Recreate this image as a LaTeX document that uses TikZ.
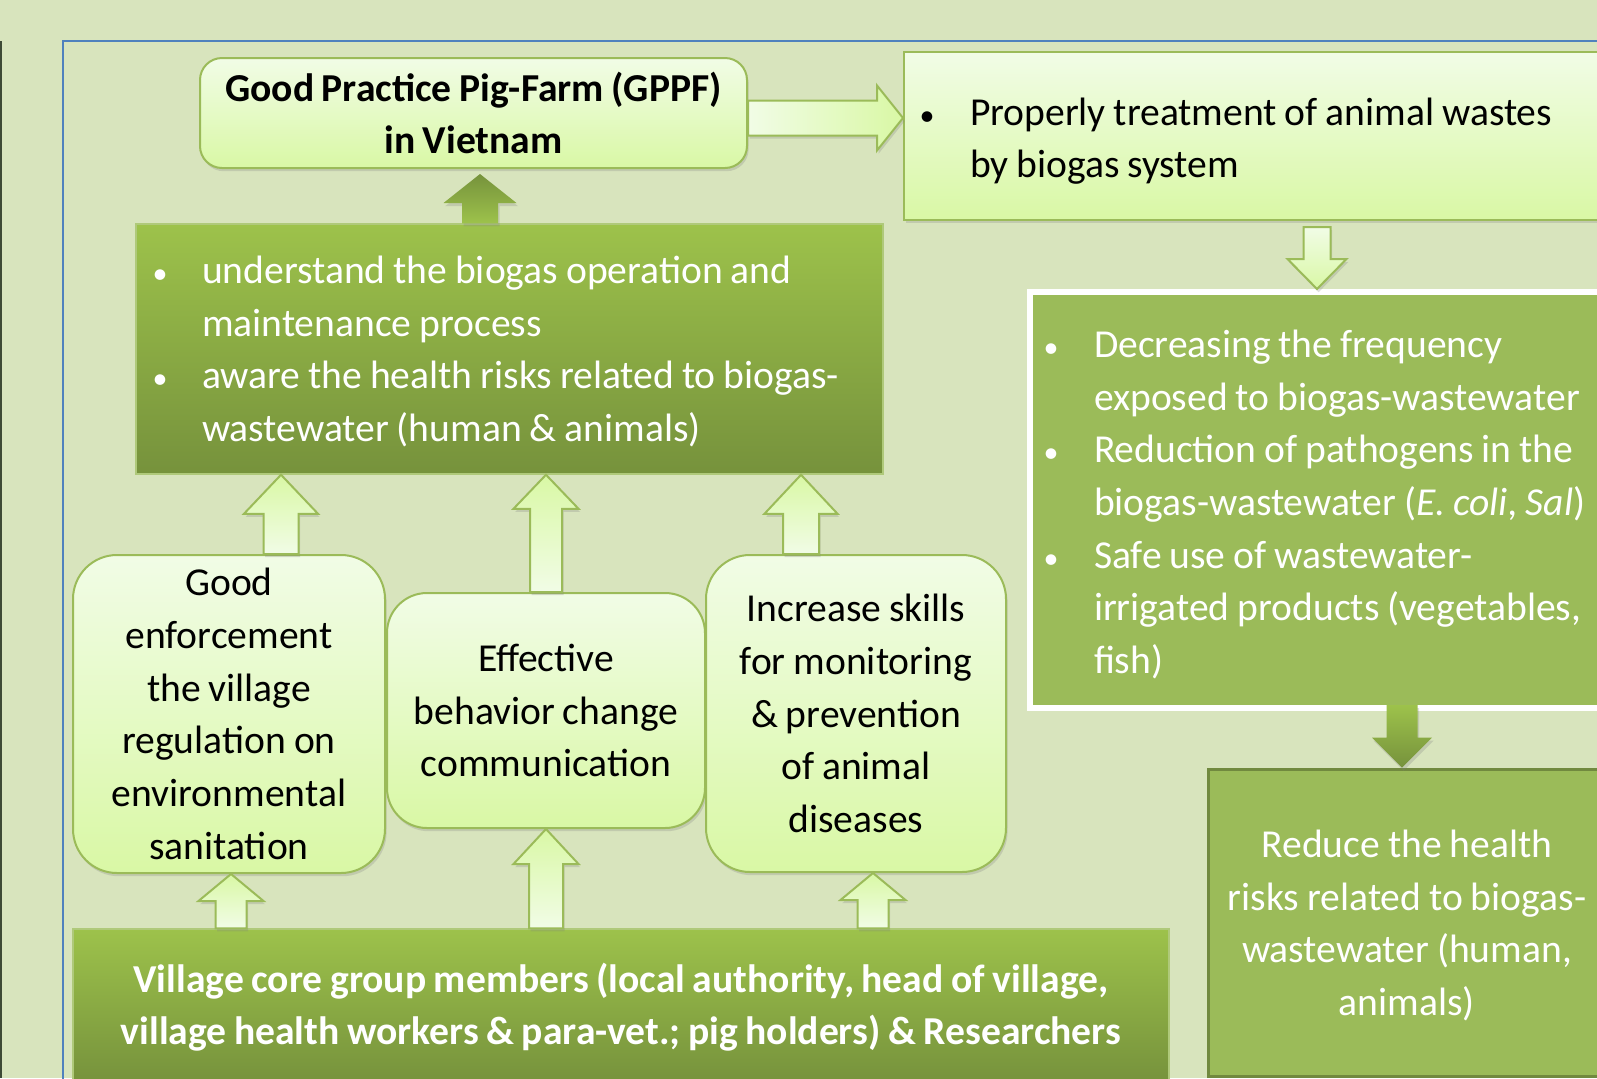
\documentclass[tikz,border=0pt]{standalone}
\usepackage{fontspec}
\setmainfont{Carlito}
\usetikzlibrary{calc,shadows}
\definecolor{bgc}{HTML}{D8E4BD}
\definecolor{framec}{HTML}{4F81BD}
\definecolor{limeb}{HTML}{9BBB59}
\definecolor{ltop}{HTML}{F1FCE6}
\definecolor{lbot}{HTML}{D9F8A5}
\definecolor{dktop}{HTML}{9DC24B}
\definecolor{dkbot}{HTML}{76923C}
\definecolor{olive}{HTML}{71893F}
\definecolor{edgec}{HTML}{3E4A36}
\newcommand\tightspace{\spaceskip=0.2em\xspaceskip=0.2em\relax}
\newcommand\bodyfont{\fontsize{19.8pt}{26.35pt}\selectfont\tightspace}
\newcommand\boldbody{\fontsize{19.8pt}{26.35pt}\selectfont\bfseries\spaceskip=0.19em\xspaceskip=0.19em\relax}
\newcommand\blist[2]{\tightspace\begin{tabular}{@{}p{#1}@{}l@{}}#2\end{tabular}}
\newcommand\bul{\makebox[0pt][c]{\fontsize{15pt}{15pt}\selectfont\textbullet}}
\newcommand\nudgedown[2]{\raisebox{-#1}[\height][\depth]{#2}}
% block arrows: style, tail, tip, shaft half width, head half width, head length
\newcommand\blkup[6]{\path[#1] let \p1=(#2), \p2=(#3) in
  (\x1-#4,\y1) -- (\x1-#4,\y2-#6) -- (\x1-#5,\y2-#6) -- (\x1,\y2) --
  (\x1+#5,\y2-#6) -- (\x1+#4,\y2-#6) -- (\x1+#4,\y1) -- cycle;}
\newcommand\blkdown[6]{\path[#1] let \p1=(#2), \p2=(#3) in
  (\x1-#4,\y1) -- (\x1-#4,\y2+#6) -- (\x1-#5,\y2+#6) -- (\x1,\y2) --
  (\x1+#5,\y2+#6) -- (\x1+#4,\y2+#6) -- (\x1+#4,\y1) -- cycle;}
\newcommand\blkright[6]{\path[#1] let \p1=(#2), \p2=(#3) in
  (\x1,\y1-#4) -- (\x2-#6,\y1-#4) -- (\x2-#6,\y1-#5) -- (\x2,\y1) --
  (\x2-#6,\y1+#5) -- (\x2-#6,\y1+#4) -- (\x1,\y1+#4) -- cycle;}
\begin{document}
\begin{tikzpicture}[x=0.5pt,y=-0.5pt,
  shadowed/.style={drop shadow={shadow xshift=0.8pt,shadow yshift=-1.6pt,opacity=0.25}},
  lightbox/.style={shadowed, draw=limeb, line width=1pt, top color=ltop, bottom color=lbot,
    inner sep=0pt, font=\bodyfont, text=black},
  darkbox/.style={draw=limeb!80!white, line width=0.75pt, top color=dktop, bottom color=dkbot,
    inner sep=0pt, font=\bodyfont, text=white},
  lightup/.style={shadowed, draw=limeb, line width=1pt, top color=lbot, bottom color=ltop},
  lightdown/.style={shadowed, draw=limeb, line width=1pt, top color=ltop, bottom color=lbot},
  lightright/.style={shadowed, draw=limeb, line width=1pt, left color=ltop, right color=lbot},
  darkup/.style={shadowed, top color=dkbot, bottom color=dktop},
  darkdown/.style={shadowed, top color=dktop, bottom color=dkbot}]
\useasboundingbox (0,0) rectangle (1597,1078);
\clip (0,0) rectangle (1597,1078);
\fill[bgc] (0,0) rectangle (1597,1078);
\fill[edgec] (0,41) rectangle (2,1078);
\draw[framec, line width=1pt] (1620,41) -- (63,41) -- (63,1100);

% boxes
\node[lightbox, rounded corners=11pt, minimum width=273.5pt, minimum height=55pt, align=center,
  font=\boldbody] (gppf) at (473.5,113) {Good Practice Pig-Farm (GPPF)\\in Vietnam};
\node[lightbox, minimum width=368pt, minimum height=84pt, text width=345pt, inner xsep=11.5pt,
  align=left] (proper) at (1272,136)
  {\nudgedown{2.5pt}{\blist{21.5pt}{\bul & Properly treatment of animal wastes\\ & by biogas system}}};
\node[darkbox, minimum width=373.5pt, minimum height=125pt, text width=349.5pt, inner xsep=12pt,
  align=left] (under) at (509.5,349)
  {\nudgedown{1.5pt}{\blist{21pt}{\bul & understand the biogas operation and\\ & maintenance process\\
   \bul & aware the health risks related to biogas-\\ & wastewater (human \& animals)}}};
\node[lightbox, rounded corners=22pt, minimum width=156pt, minimum height=159pt, align=center]
  (good) at (229,714) {Good\\enforcement\\the village\\regulation on\\environmental\\sanitation};
\node[lightbox, rounded corners=20pt, minimum width=159pt, minimum height=117.5pt, align=center]
  (effect) at (546,710.5) {Effective\\behavior change\\communication};
\node[lightbox, rounded corners=22pt, minimum width=150pt, minimum height=158.5pt, align=center]
  (incr) at (856,713.5) {Increase skills\\for monitoring\\\& prevention\\of animal\\diseases};
\node[darkbox, minimum width=548pt, minimum height=77pt, font=\boldbody]
  (village) at (621,1006) {\nudgedown{1pt}{\begin{tabular}{@{}c@{}}Village core group members (local authority, head of village,\\village health workers \& para-vet.; pig holders) \& Researchers\end{tabular}}};
\node[shadowed, fill=limeb, draw=white, line width=3pt, minimum width=305pt, minimum height=208pt,
  text width=284pt, inner xsep=10.5pt, inner ysep=0pt, align=left, font=\bodyfont, text=white]
  (decr) at (1335,500)
  {\nudgedown{2.5pt}{\blist{21.5pt}{\bul & Decreasing the frequency\\ & exposed to biogas-wastewater\\
   \bul & Reduction of pathogens in the\\ & biogas-wastewater (\textit{E. coli, Sal})\\
   \bul & Safe use of wastewater-\\ & irrigated products (vegetables,\\ & fish)}}};
\node[fill=limeb, draw=olive, line width=1.5pt, minimum width=199pt, minimum height=153.5pt,
  font=\bodyfont, text=white, inner sep=0pt]
  (reduce) at (1407,922.5) {\nudgedown{1.75pt}{\begin{tabular}{@{}c@{}}Reduce the health\\risks related to biogas-\\wastewater (human,\\animals)\end{tabular}}};

% arrows
\blkup{darkup}{$(under.north)+(-29.5,0)$}{$(gppf.south)+(0,5)$}{9pt}{18.25pt}{14.5pt}
\blkright{lightright}{$(gppf.east)+(0,5)$}{proper.west}{8.75pt}{16.25pt}{13pt}
\blkdown{lightdown}{$(proper.south)+(45,6)$}{decr.north}{6.75pt}{14.75pt}{15pt}
\blkdown{darkdown}{$(decr.south)+(67,-6)$}{reduce.north}{7.75pt}{15pt}{15pt}
\blkup{lightup}{$(good.north)+(52,0)$}{under.south}{8.75pt}{18.5pt}{19.5pt}
\blkup{lightup}{effect.north}{under.south}{8pt}{16.25pt}{17pt}
\blkup{lightup}{$(incr.north)+(-55,0)$}{under.south}{9pt}{18.25pt}{19.5pt}
\blkup{lightup}{$(good.south |- village.north)+(2,0)$}{good.south}{7.75pt}{16.25pt}{13.5pt}
\blkup{lightup}{effect.south |- village.north}{effect.south}{8.5pt}{16.25pt}{17.5pt}
\blkup{lightup}{$(incr.south |- village.north)+(17,0)$}{incr.south}{7.75pt}{16.25pt}{13.5pt}
\end{tikzpicture}
\end{document}
